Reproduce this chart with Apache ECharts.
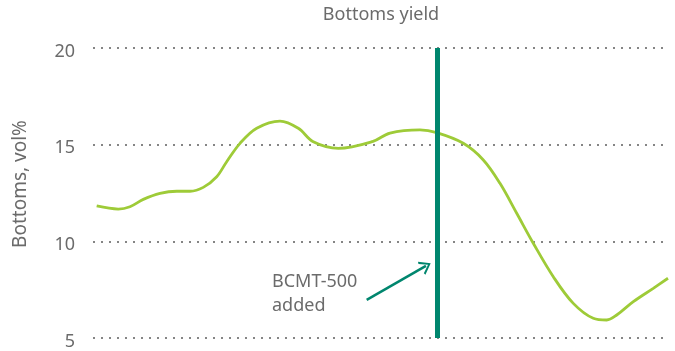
<!DOCTYPE html>
<html><head><meta charset="utf-8">
<script src="https://cdn.jsdelivr.net/npm/echarts@6/dist/echarts.min.js"></script>
<style>html,body{margin:0;padding:0;background:#fff}#c{width:675px;height:351px}</style>
</head><body><div id="c"></div>
<script>
const xPos = [0.64,4.4,6.43,8.75,11.65,14.56,16.87,19.18,21.51,23.25,25.57,28.47,32.52,35.7,38.31,42.66,48.7,51.65,56.87,59.77,64.4,67.88,70.78,73.69,76.57,80.05,83.53,87.0,89.34,91.08,93.97,97.44,100];
const yVals = [11.83,11.67,11.79,12.17,12.48,12.59,12.59,12.79,13.34,14.12,15.07,15.85,16.22,15.85,15.15,14.81,15.17,15.6,15.76,15.62,15.07,14.21,13.0,11.45,9.9,8.17,6.79,6.02,5.93,6.19,6.88,7.57,8.09];
const yTicks = [5,10,15,20];
const markerX = 59.8;
const arrowFrom = [47.6,6.97];
const arrowTo = [57.9,8.73];
const title = 'Bottoms yield';
const yName = 'Bottoms, vol%';
const note = 'BCMT-500\nadded';

const chart = echarts.init(document.getElementById('c'));
const font = 'Noto Sans';
chart.setOption({
  animation:false,
  title:{text:title,left:376,textAlign:'center',top:1,textStyle:{fontFamily:font,fontSize:18,fontWeight:'normal',color:'#6b6b6b'}},
  grid:{left:93,right:7,top:48,bottom:13},
  xAxis:{type:'value',min:0,max:100,show:false},
  yAxis:{type:'value',min:yTicks[0],max:yTicks[yTicks.length-1],interval:5,
    name:yName,nameLocation:'middle',nameGap:63,
    nameTextStyle:{fontFamily:font,fontSize:19,color:'#6b6b6b',padding:[0,0,0,18]},
    axisLine:{show:false},axisTick:{show:false},
    axisLabel:{margin:18,formatter:'{a|{value}}',
      rich:{a:{fontFamily:font,fontSize:18,color:'#6b6b6b',padding:[7,0,0,0]}}},
    splitLine:{lineStyle:{type:[2,6],width:2,color:'#858585'}}},
  series:[{type:'line',data:xPos.map((x,i)=>[x,yVals[i]]),smooth:0.35,symbol:'none',
    lineStyle:{color:'#9ecb38',width:2.8},z:2,
    markLine:{silent:true,symbol:'none',label:{show:false},animation:false,
      data:[
        [{coord:[markerX,5],lineStyle:{color:'#00866e',width:5,type:'solid'}},{coord:[markerX,20]}],
        [{coord:arrowFrom,symbol:'none',lineStyle:{color:'#00866e',width:2.5,type:'solid'}},
         {coord:arrowTo,symbol:'path://M0,10 L5,0 L10,10 L8.6,10.6 L5,3 L1.4,10.6 Z',symbolSize:[15,11]}]
      ]}
  }],
  graphic:[{type:'text',left:272,top:270,style:{text:note,fontFamily:font,fontSize:18,lineHeight:24,fill:'#6b6b6b'}}]
});
</script></body></html>
